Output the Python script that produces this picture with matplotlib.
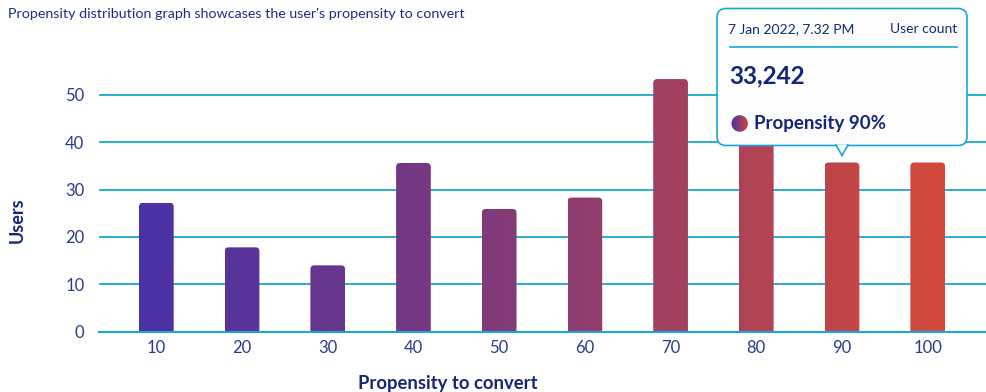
import matplotlib

matplotlib.use("Agg")
import matplotlib.pyplot as plt
import numpy as np
from matplotlib.colors import LinearSegmentedColormap
from matplotlib.lines import Line2D
from matplotlib.patches import Circle, FancyBboxPatch, Polygon

# propensity buckets and user counts per bucket
propensity = ["10", "20", "30", "40", "50", "60", "70", "80", "90", "100"]
users = [27.2, 17.8, 14.0, 35.6, 25.9, 28.3, 53.3, 45.0, 35.7, 35.7]
y_ticks = [0, 10, 20, 30, 40, 50]

title = "Propensity distribution graph showcases the user's propensity to convert"
tip_date = "7 Jan 2022, 7.32 PM"
tip_header = "User count"
tip_count = "33,242"
tip_label = "Propensity 90%"
tip_index = 8

NAVY = "#14267a"
TICK = "#2a3b8f"
GRID = "#1aa7d6"
W, H = 986, 392

plt.rcParams["font.family"] = ["Lato", "DejaVu Sans"]
cmap = LinearSegmentedColormap.from_list("prop", ["#4a31a6", "#893c73", "#d44a3a"])

fig = plt.figure(figsize=(W / 100, H / 100), dpi=100)
ax = fig.add_axes([99 / W, 60.3 / H, 887 / W, 260.7 / H])
ax.set_xlim(-0.669, 9.68)
ax.set_ylim(0, 55)
for s in ax.spines.values():
    s.set_visible(False)

x = np.arange(len(users))
ax.set_yticks(y_ticks)
ax.set_xticks(x, propensity)
ax.tick_params(length=0, labelsize=12, labelcolor=TICK)
ax.tick_params(axis="y", pad=10.5)
ax.tick_params(axis="x", pad=6)
ax.yaxis.grid(True, color=GRID, lw=1.3, zorder=0)
ax.set_axisbelow(True)
ax.axhline(0, color=GRID, lw=1.5, zorder=5, clip_on=False)

# rounded bars filled with a left-to-right colour gradient
bar_w = 0.405
px_x = ax.transData.transform((1, 0))[0] - ax.transData.transform((0, 0))[0]
px_y = ax.transData.transform((0, 1))[1] - ax.transData.transform((0, 0))[1]
r_x = 4 / px_x
r_y = 4 / px_y
g_left, g_right = -bar_w / 2, x[-1] + bar_w / 2
for xi, v in zip(x, users):
    x0 = xi - bar_w / 2
    patch = FancyBboxPatch((x0, -r_y), bar_w, v + r_y,
                           boxstyle=f"round,pad=0,rounding_size={r_x}",
                           mutation_aspect=r_y / r_x, lw=0, fc="none", zorder=2)
    ax.add_patch(patch)
    t0 = (x0 - g_left) / (g_right - g_left)
    t1 = (x0 + bar_w - g_left) / (g_right - g_left)
    img = ax.imshow(np.linspace(t0, t1, 32)[None, :], cmap=cmap, vmin=0, vmax=1,
                    extent=(x0, x0 + bar_w, 0, v), aspect="auto", zorder=2,
                    interpolation="bilinear")
    img.set_clip_path(patch)
ax.set_xlim(-0.669, 9.68)
ax.set_ylim(0, 55)

fig.text(8 / W, 1 - 14 / H, title, fontsize=10.3, color="#1c2e84", va="center", ha="left")
fig.text(17.5 / W, 1 - 220 / H, "Users", rotation=90, fontsize=13, fontweight="bold",
         color=NAVY, va="center", ha="center")
fig.text(448 / W, 1 - 384 / H, "Propensity to convert", fontsize=13.3, fontweight="bold",
         color=NAVY, va="center", ha="center")


def fp(px, py):
    # pixel position measured from the top-left corner -> figure fraction
    return (px / W, 1 - py / H)


# tooltip anchored above the hovered bar
tip_x, tip_y = ax.transData.transform((tip_index, users[tip_index]))
tip_y = H - tip_y - 7
box_l, box_r = tip_x - 125, tip_x + 125
box_b, box_t = tip_y - 10, tip_y - 147
tf = fig.transFigure

bx0, by0 = fp(box_l, box_b)
bx1, by1 = fp(box_r, box_t)
box = FancyBboxPatch((bx0, by0), bx1 - bx0, by1 - by0,
                     boxstyle=f"round,pad=0,rounding_size={9 / W}",
                     mutation_aspect=W / H, transform=tf, fc="#fdfdfd", ec=GRID, lw=1.2,
                     zorder=20)
fig.patches.append(box)
tri = [fp(tip_x - 6, box_b - 0.6), fp(tip_x + 6, box_b - 0.6), fp(tip_x, tip_y)]
fig.patches.append(Polygon(tri, closed=True, transform=tf, fc="#fdfdfd", ec="none", zorder=21))
for side in (tri[0], tri[1]):
    fig.lines.append(Line2D([side[0], tri[2][0]], [side[1], tri[2][1]], transform=tf,
                            color=GRID, lw=1.2, zorder=22))

fig.text(*fp(box_l + 11, box_t + 21), tip_date, fontsize=10, color=NAVY,
         va="center", ha="left", zorder=23)
fig.text(*fp(box_r - 10, box_t + 21), tip_header, fontsize=10, color=NAVY,
         va="center", ha="right", zorder=23)
sx0, sy = fp(box_l + 13, box_t + 38.5)
sx1, _ = fp(box_r - 10, box_t + 38.5)
fig.lines.append(Line2D([sx0, sx1], [sy, sy], transform=tf, color=GRID, lw=1.2, zorder=23))
fig.text(*fp(box_l + 12, box_t + 67.5), tip_count, fontsize=17.5, fontweight="bold",
         color=NAVY, va="center", ha="left", zorder=23)
fig.text(*fp(box_l + 37, box_t + 115), tip_label, fontsize=13.5, fontweight="bold",
         color=NAVY, va="center", ha="left", zorder=23)

# gradient dot in front of the series label
cx, cy = box_l + 22.7, box_t + 115
dot_ax = fig.add_axes([(cx - 9) / W, 1 - (cy + 9) / H, 18 / W, 18 / H], zorder=30)
dot_ax.set_axis_off()
dot_ax.set_xlim(0, 1)
dot_ax.set_ylim(0, 1)
dot = Circle((0.5, 0.5), 0.46, transform=dot_ax.transAxes, fc="none", lw=0)
dot_ax.add_patch(dot)
dimg = dot_ax.imshow(np.linspace(0, 1, 32)[None, :], cmap=cmap, extent=(0, 1, 0, 1),
                     aspect="auto", interpolation="bilinear")
dimg.set_clip_path(dot)

fig.savefig("out.png", dpi=100)
plt.close(fig)
